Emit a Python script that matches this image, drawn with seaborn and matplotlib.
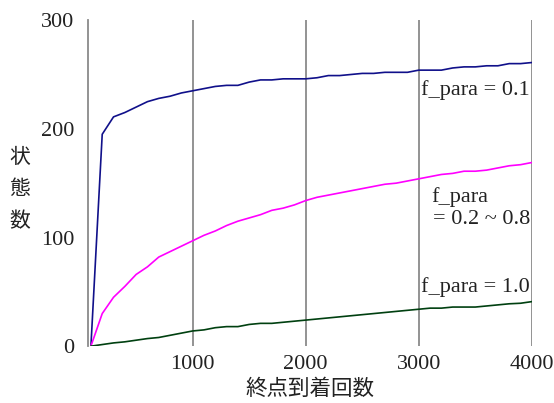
import seaborn as sns
import matplotlib.pyplot as plt
import pandas as pd

# visits to the goal (x) and number of states (y) per f_para setting
steps = list(range(100, 4001, 100))
states_01 = [0, 195, 211, 215, 220, 225, 228, 230, 233, 235,
             237, 239, 240, 240, 243, 245, 245, 246, 246, 246,
             247, 249, 249, 250, 251, 251, 252, 252, 252, 254,
             254, 254, 256, 257, 257, 258, 258, 260, 260, 261]
states_mid = [0, 30, 45, 55, 66, 73, 82, 87, 92, 97,
              102, 106, 111, 115, 118, 121, 125, 127, 130, 134,
              137, 139, 141, 143, 145, 147, 149, 150, 152, 154,
              156, 158, 159, 161, 161, 162, 164, 166, 167, 169]
states_10 = [0, 1.5, 3, 4, 5.5, 7, 8, 10, 12, 14,
             15, 17, 18, 18, 20, 21, 21, 22, 23, 24,
             25, 26, 27, 28, 29, 30, 31, 32, 33, 34,
             35, 35, 36, 36, 36, 37, 38, 39, 39.5, 41]
series_names = ["0.1", "0.2-0.8", "1.0"]
x_ticks = [1000, 2000, 3000, 4000]
y_ticks = [0, 100, 200, 300]

df = pd.DataFrame({
    "steps": steps * 3,
    "states": states_01 + states_mid + states_10,
    "f_para": [s for s in series_names for _ in steps],
})

sns.set_style("white")
plt.rcParams['font.family'] = ['Liberation Serif', 'DejaVu Serif']

fig = plt.figure(figsize=(5.54, 4.03), dpi=100)
ax = fig.add_axes([0.159, 0.141, 0.801, 0.809])

palette = {"0.1": "#10108a", "0.2-0.8": "#ff00ff", "1.0": "#004010"}
sns.lineplot(data=df, x="steps", y="states", hue="f_para", palette=palette,
             linewidth=1.2, legend=False, ax=ax, zorder=3)

ax.set_xlim(75, 4000)
ax.set_ylim(0, 300)
ax.set_xticks(x_ticks)
ax.set_yticks(y_ticks)
ax.tick_params(axis='both', length=0, labelsize=16, colors='#222222')
ax.tick_params(axis='x', pad=6)
ax.tick_params(axis='y', pad=10)
ax.grid(axis='x', color='#8a8a8a', linewidth=1.3)
ax.grid(axis='y', visible=False)
for side in ['top', 'bottom', 'right']:
    ax.spines[side].set_visible(False)
ax.spines['left'].set_color('#8a8a8a')
ax.spines['left'].set_linewidth(1.3)

ax.set_xlabel("終点到着回数", fontsize=15.5, family=['Noto Sans CJK JP'], labelpad=3,
              color='#222222')
ax.set_ylabel("")
fig.text(0.036, 0.53, "状\n態\n数", fontsize=15, family=['Noto Sans CJK JP'],
         ha='center', va='center', linespacing=1.6, color='#222222')

txt = dict(fontsize=16, color='#222222', ha='right', va='center')
ax.text(3985, 236, "f_para = 0.1", **txt)
ax.text(3360, 137, "f_para", fontsize=16, color='#222222', ha='center', va='center')
ax.text(3985, 117, "= 0.2 ~ 0.8", **txt)
ax.text(3985, 54, "f_para = 1.0", **txt)

plt.savefig("out.png", dpi=100)
